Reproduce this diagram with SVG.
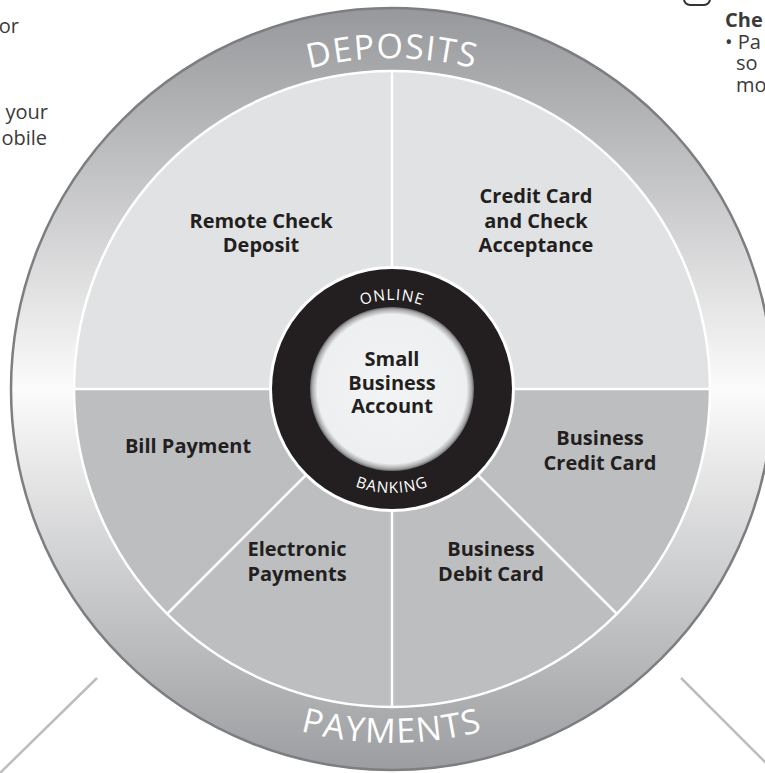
<svg xmlns="http://www.w3.org/2000/svg" width="765" height="773" viewBox="0 0 765 773">
<style>
.lbl{font-family:"Open Sans","Liberation Sans",sans-serif;font-weight:bold;font-size:20px;fill:#231f20;text-anchor:middle}
.side{font-family:"Open Sans","Liberation Sans",sans-serif;font-size:20px;fill:#3a3a3a}
.band{font-family:"Open Sans","Liberation Sans",sans-serif;font-size:34px;fill:#ffffff;letter-spacing:1.5px}
.ring{font-family:"Open Sans","Liberation Sans",sans-serif;font-size:15.5px;fill:#ffffff;letter-spacing:1px}
.sep{stroke:#ffffff;stroke-width:2.5;fill:none}
.leader{stroke:#bcbdbf;stroke-width:2.5}
</style>
<defs>
<linearGradient id="bandGrad" x1="0" y1="7" x2="0" y2="771" gradientUnits="userSpaceOnUse">
<stop offset="0" stop-color="#97989b"/>
<stop offset="0.5" stop-color="#fbfbfb"/>
<stop offset="1" stop-color="#9c9da0"/>
</linearGradient>
<radialGradient id="coreGrad" cx="392" cy="389" r="83" gradientUnits="userSpaceOnUse">
<stop offset="0" stop-color="#f2f3f4"/>
<stop offset="0.9" stop-color="#eeeff0"/>
<stop offset="0.96" stop-color="#a7a8aa"/>
<stop offset="1" stop-color="#4a4b4d"/>
</radialGradient>
<path id="arcDep" d="M 61 389 A 331 331 0 0 1 723 389"/>
<path id="arcPay" d="M 38 389 A 354 354 0 0 0 746 389"/>
<path id="arcOnl" d="M 303 389 A 89 89 0 0 1 481 389"/>
<path id="arcBank" d="M 288 389 A 104 104 0 0 0 496 389"/>
</defs>

<g id="side-text">
<text class="side" x="19" y="33" text-anchor="end">or</text>
<text class="side" x="48" y="119" text-anchor="end">your</text>
<text class="side" x="47" y="145" text-anchor="end">obile</text>
<rect x="684" y="-22" width="26" height="27" rx="6" fill="none" stroke="#333333" stroke-width="2"/>
<text class="side" x="725" y="27" font-weight="bold">Che</text>
<text class="side" x="725" y="48.5">• Pa</text>
<text class="side" x="736" y="70">so</text>
<text class="side" x="736" y="91.5">mo</text>
</g>

<g id="leaders">
<line class="leader" x1="97" y1="678" x2="0" y2="773"/>
<line class="leader" x1="681" y1="678" x2="776" y2="773"/>
</g>

<g id="outer-band">
<circle cx="392" cy="389" r="381" fill="url(#bandGrad)" stroke="#7d7e81" stroke-width="2.5"/>
<text class="band"><textPath href="#arcDep" startOffset="50%" text-anchor="middle">DEPOSITS</textPath></text>
<text class="band"><textPath href="#arcPay" startOffset="50%" text-anchor="middle">PAYMENTS</textPath></text>
</g>

<g id="wheel">
<path d="M 74 389 A 318 318 0 0 1 710 389 Z" fill="#e1e2e3"/>
<path d="M 74 389 A 318 318 0 0 0 710 389 Z" fill="#bdbec0"/>
</g>

<g id="connectors">
<circle class="sep" cx="392" cy="389" r="318"/>
<line class="sep" x1="74" y1="389" x2="710" y2="389"/>
<line class="sep" x1="392" y1="71" x2="392" y2="707"/>
<line class="sep" x1="392" y1="389" x2="167" y2="614"/>
<line class="sep" x1="392" y1="389" x2="617" y2="614"/>
</g>

<g id="remote-check-deposit">
<text class="lbl" x="261" y="228">Remote Check</text>
<text class="lbl" x="261" y="252">Deposit</text>
</g>
<g id="credit-card-acceptance">
<text class="lbl" x="536" y="203">Credit Card</text>
<text class="lbl" x="536" y="228">and Check</text>
<text class="lbl" x="536" y="252">Acceptance</text>
</g>
<g id="bill-payment">
<text class="lbl" x="188" y="453">Bill Payment</text>
</g>
<g id="business-credit-card">
<text class="lbl" x="600" y="445">Business</text>
<text class="lbl" x="600" y="470">Credit Card</text>
</g>
<g id="electronic-payments">
<text class="lbl" x="297" y="556">Electronic</text>
<text class="lbl" x="297" y="581">Payments</text>
</g>
<g id="business-debit-card">
<text class="lbl" x="491" y="556">Business</text>
<text class="lbl" x="491" y="581">Debit Card</text>
</g>

<g id="small-business-account">
<circle cx="392" cy="389" r="123" fill="#ffffff"/>
<circle cx="392" cy="389" r="120" fill="#231f20"/>
<circle cx="392" cy="389" r="82" fill="url(#coreGrad)"/>
<text class="ring"><textPath href="#arcOnl" startOffset="50%" text-anchor="middle">ONLINE</textPath></text>
<text class="ring"><textPath href="#arcBank" startOffset="50%" text-anchor="middle">BANKING</textPath></text>
<text class="lbl" x="392" y="366">Small</text>
<text class="lbl" x="392" y="389.5">Business</text>
<text class="lbl" x="392" y="413">Account</text>
</g>
</svg>
